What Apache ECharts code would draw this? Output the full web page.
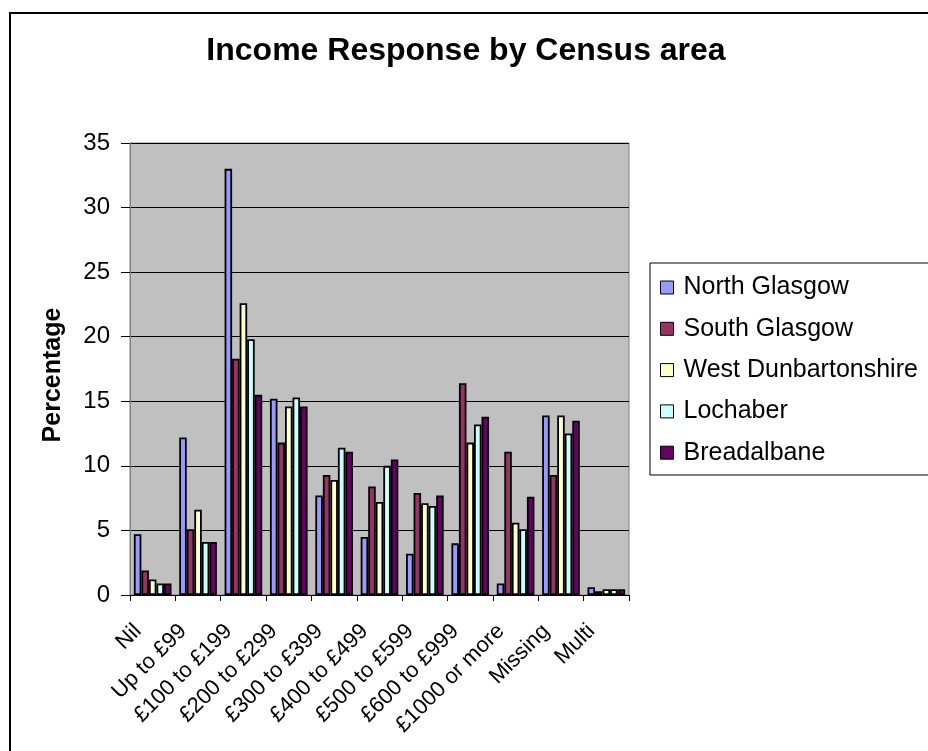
<!DOCTYPE html>
<html><head><meta charset="utf-8">
<script src="https://cdn.jsdelivr.net/npm/echarts@6/dist/echarts.min.js"></script>
<style>html,body{margin:0;padding:0;background:#fff}#c{width:928px;height:751px}</style>
</head><body><div id="c"></div>
<script>
const categories = ['Nil','Up to £99','£100 to £199','£200 to £299','£300 to £399','£400 to £499','£500 to £599','£600 to £999','£1000 or more','Missing','Multi'];
const seriesNames = ['North Glasgow','South Glasgow','West Dunbartonshire','Lochaber','Breadalbane'];
const northGlasgow = [4.7, 12.2, 33.0, 15.2, 7.7, 4.5, 3.2, 4.0, 0.9, 13.9, 0.6];
const southGlasgow = [1.9, 5.1, 18.3, 11.8, 9.3, 8.4, 7.9, 16.4, 11.1, 9.3, 0.3];
const westDunbartonshire = [1.2, 6.6, 22.6, 14.6, 8.9, 7.2, 7.1, 11.8, 5.6, 13.9, 0.45];
const lochaber = [0.9, 4.1, 19.8, 15.3, 11.4, 10.0, 6.9, 13.2, 5.1, 12.5, 0.45];
const breadalbane = [0.9, 4.1, 15.5, 14.6, 11.1, 10.5, 7.7, 13.8, 7.6, 13.5, 0.45];
const yTicks = [0, 35, 5];
const colors = ['#9999FF','#993366','#FFFFCC','#CCFFFF','#660066'];
const allData = [northGlasgow, southGlasgow, westDunbartonshire, lochaber, breadalbane];

const FONT = '"Liberation Sans", Arial, sans-serif';
const chart = echarts.init(document.getElementById('c'), null, {renderer:'canvas'});
chart.setOption({
  animation: false,
  backgroundColor: '#ffffff',
  textStyle: {fontFamily: FONT, color: '#000'},
  graphic: [
    {type:'rect', shape:{x:10, y:13, width:940, height:760}, style:{fill:'none', stroke:'#000', lineWidth:2}, z:0},
    {type:'text', x:466, y:51, style:{text:'Income Response by Census area', font:'bold 32px ' + FONT, fill:'#000', align:'center', verticalAlign:'middle'}},
    {type:'text', x:53, y:375, rotation:Math.PI/2, style:{text:'Percentage', font:'bold 25px ' + FONT, fill:'#000', align:'center', verticalAlign:'middle'}},
    {type:'rect', shape:{x:650, y:263, width:300, height:212}, style:{fill:'#fff', stroke:'#000', lineWidth:1}, z:1}
  ],
  legend: {
    orient: 'vertical', left: 660, top: 275, padding: 0, itemGap: 16.3, itemWidth: 13, itemHeight: 13,
    icon: 'rect', z: 5,
    textStyle: {fontSize: 25, fontFamily: FONT, color:'#000', padding:[0,0,0,5]},
    itemStyle: {borderColor:'#000', borderWidth:1}
  },
  grid: {left:130, right:299, top:143, bottom:156, show:true, backgroundColor:'#C0C0C0', borderColor:'#808080', borderWidth:1},
  xAxis: {
    type:'category', data: categories,
    axisLine:{show:true, lineStyle:{color:'#000', width:1}},
    axisTick:{show:true, interval:0, length:6, lineStyle:{color:'#000'}},
    axisLabel:{interval:0, rotate:45, fontSize:22, fontFamily:FONT, color:'#000', margin:18, padding:[0,21,0,0]},
    splitLine:{show:false}
  },
  yAxis: {
    type:'value', min: yTicks[0], max: yTicks[1], interval: yTicks[2],
    axisLine:{show:true, lineStyle:{color:'#808080', width:1}},
    axisTick:{show:true, length:9, lineStyle:{color:'#000'}},
    axisLabel:{fontSize:24, fontFamily:FONT, color:'#000', margin:20},
    splitLine:{show:true, lineStyle:{color:'#000', width:1}}
  },
  series: seriesNames.map((n,i)=>({
    name:n, type:'bar', data: allData[i], barGap:'0%', barCategoryGap:'17%',
    itemStyle:{color:colors[i], borderColor:'#000', borderWidth:1.8}
  }))
});
</script></body></html>
